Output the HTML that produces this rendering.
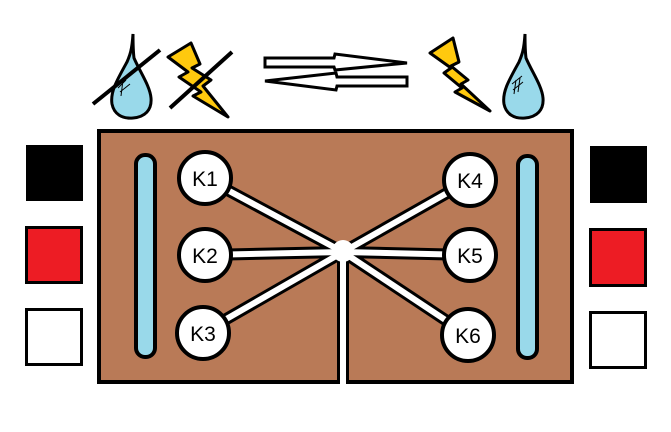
<!DOCTYPE html>
<html><head><style>html,body{margin:0;padding:0;background:#fff}svg{display:block}</style></head>
<body>
<svg width="671" height="432" viewBox="0 0 671 432" xmlns="http://www.w3.org/2000/svg" font-family="Liberation Sans, sans-serif">
<rect width="671" height="432" fill="#fff"/>
<rect x="26" y="145" width="57" height="56" fill="#000"/>
<rect x="26.5" y="227.5" width="55" height="55" fill="#ed1c24" stroke="#000" stroke-width="3"/>
<rect x="26.5" y="309.5" width="55" height="55" fill="#fff" stroke="#000" stroke-width="3"/>
<rect x="590" y="146" width="57" height="57" fill="#000"/>
<rect x="590.5" y="229.5" width="55" height="56" fill="#ed1c24" stroke="#000" stroke-width="3"/>
<rect x="590.5" y="312.5" width="55" height="55" fill="#fff" stroke="#000" stroke-width="3"/>
<rect x="99" y="131" width="473" height="251" fill="#b97a57" stroke="#000" stroke-width="4"/>
<rect x="136" y="155" width="19" height="202" rx="9" fill="#99d9ea" stroke="#000" stroke-width="4"/>
<rect x="518" y="156" width="19" height="202" rx="9" fill="#99d9ea" stroke="#000" stroke-width="4"/>
<g stroke="#000" stroke-width="12" stroke-linecap="butt">
<line x1="205" y1="178" x2="343" y2="252"/>
<line x1="205" y1="255" x2="343" y2="252"/>
<line x1="202" y1="333" x2="343" y2="252"/>
<line x1="470" y1="180" x2="343" y2="252"/>
<line x1="470" y1="255" x2="343" y2="252"/>
<line x1="468" y1="335" x2="343" y2="252"/>
<line x1="343" y1="252" x2="343" y2="384"/>
</g>
<g stroke="#fff" stroke-width="6">
<line x1="205" y1="178" x2="343" y2="252"/>
<line x1="205" y1="255" x2="343" y2="252"/>
<line x1="202" y1="333" x2="343" y2="252"/>
<line x1="470" y1="180" x2="343" y2="252"/>
<line x1="470" y1="255" x2="343" y2="252"/>
<line x1="468" y1="335" x2="343" y2="252"/>
<line x1="343" y1="252" x2="343" y2="386"/>
</g>
<circle cx="343" cy="251" r="11" fill="#fff"/>
<g fill="#fff" stroke="#000" stroke-width="4">
<circle cx="205" cy="178" r="26"/><circle cx="205" cy="255" r="26"/><circle cx="203" cy="333" r="26"/>
<circle cx="470" cy="180" r="26"/><circle cx="470" cy="255" r="26"/><circle cx="468" cy="335" r="26"/>
</g>
<g font-size="21" text-anchor="middle" fill="#000">
<text x="205" y="186">K1</text><text x="205" y="263">K2</text><text x="203" y="341">K3</text>
<text x="470" y="188">K4</text><text x="470" y="263">K5</text><text x="468" y="343">K6</text>
</g>
<path d="M133 34 C132 50 130 55 127 62 C117 80 110 92 112 104 C114 114 122 119 133 118 C145 117 152 110 151 98 C150 86 140 72 134 58 C133 50 133 42 133 34 Z" fill="#99d9ea" stroke="#000" stroke-width="3"/>
<path d="M118 88 L126 80 M120 92 L130 84 M123 80 L121 96" stroke="#000" stroke-width="1" fill="none"/>
<line x1="93" y1="104" x2="160" y2="50" stroke="#000" stroke-width="4"/>
<path d="M168 57 L191 43 L200 64 L192 68 L211 80 L203 86 L228 117 L193 96 L201 92 L179 77 L188 72 Z" fill="#ffc90e" stroke="#000" stroke-width="3" stroke-linejoin="round"/>
<line x1="170" y1="108" x2="232" y2="52" stroke="#000" stroke-width="4"/>
<path d="M265 58 L334 58 L335 54 L407 63 L335 70 L334 67 L265 67 Z" fill="#fff" stroke="#000" stroke-width="3"/>
<path d="M407 77 L337 77 L336 73 L265 81 L336 90 L337 86 L407 86 Z" fill="#fff" stroke="#000" stroke-width="3"/>
<path d="M430 53 L453 38 L459 62 L451 66 L468 80 L461 84 L490 111 L455 92 L462 88 L444 73 L451 68 Z" fill="#ffc90e" stroke="#000" stroke-width="3" stroke-linejoin="round"/>
<path d="M525 34 C524 50 522 55 519 62 C509 80 502 92 504 104 C506 114 514 119 525 118 C537 117 544 110 543 98 C542 86 532 72 526 58 C525 50 525 42 525 34 Z" fill="#99d9ea" stroke="#000" stroke-width="3"/>
<path d="M512 84 L522 76 M513 90 L523 82 M516 80 L514 94 M520 78 L518 92" stroke="#000" stroke-width="1" fill="none"/>
</svg>
</body></html>
